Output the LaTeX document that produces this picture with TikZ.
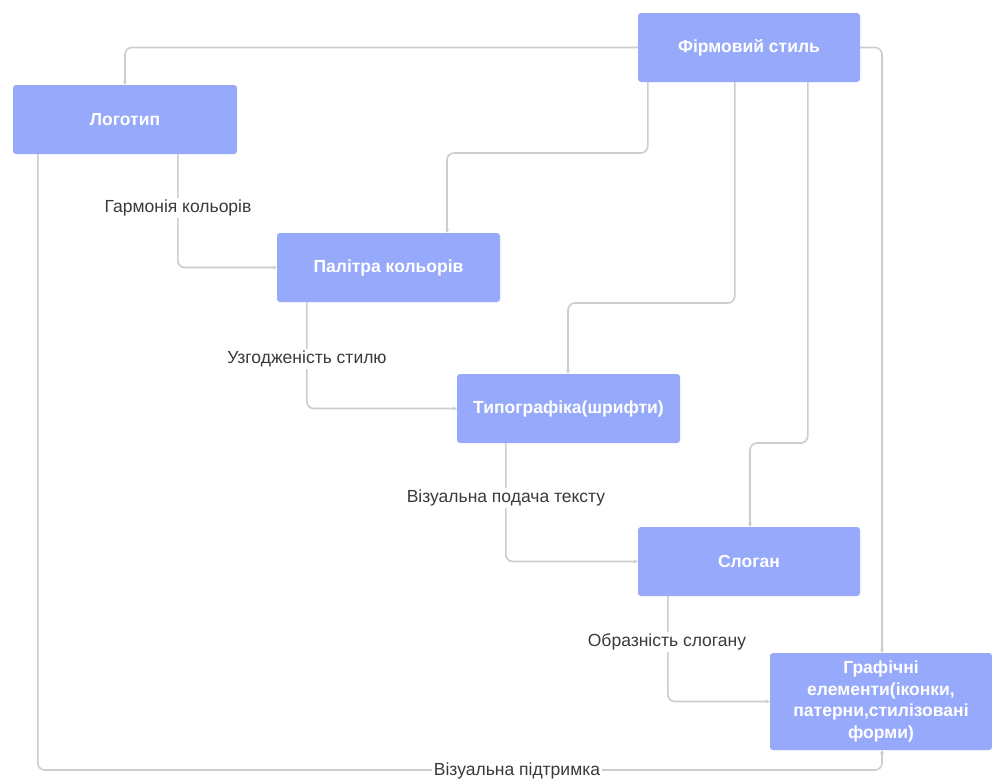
\documentclass[tikz,border=0pt]{standalone}
\usepackage{fontspec}
\setmainfont{Liberation Sans}
\usetikzlibrary{arrows.meta}
\definecolor{boxblue}{HTML}{97A9FA}
\definecolor{linegrey}{HTML}{CDCDCD}
\definecolor{labelgrey}{HTML}{3A3A3A}
\begin{document}
\begin{tikzpicture}[x=1pt,y=-1pt,
  box/.style={draw=none, fill=boxblue, rounded corners=3pt, text=white, font=\fontsize{17.5}{21.5}\selectfont\bfseries, align=center, inner sep=0pt},
  conn/.style={draw=linegrey, line width=1.6pt, rounded corners=7pt, -{Stealth[length=4pt,width=4pt]}},
  lbl/.style={fill=white, text=labelgrey, font=\fontsize{17.5}{20}\selectfont, inner sep=2pt}]
\useasboundingbox (0,0) rectangle (992,782);
\fill[white] (0,0) rectangle (992,782);

\node[box, minimum width=222pt, minimum height=69pt] (firm) at (749,47.5) {Фірмовий стиль};
\node[box, minimum width=224pt, minimum height=69pt] (logo) at (125,119.5) {Логотип};
\node[box, minimum width=223pt, minimum height=69pt] (pal) at (388.5,267.5) {Палітра кольорів};
\node[box, minimum width=223pt, minimum height=69pt] (typo) at (568.5,408.5) {Типографіка(шрифти)};
\node[box, minimum width=222pt, minimum height=69pt] (slog) at (749,561.5) {Слоган};
\node[box, minimum width=222pt, minimum height=97pt, text width=210pt] (graf) at (881,701.5) {Графічні\\елементи(іконки,\\патерни,стилізовані\\форми)};

\coordinate (b2) at (447,153);
\coordinate (b3) at (568,303);
\coordinate (b4) at (750,443);
\coordinate (b10) at (882,770);

\draw[conn] (firm.west) -| (logo.north);
\draw[conn] ([xshift=10pt]firm.south west) |- (b2) -- (b2 |- pal.north);
\draw[conn] ([xshift=97pt]firm.south west) |- (b3) -- (b3 |- typo.north);
\draw[conn] ([xshift=170pt]firm.south west) |- (b4) -- (b4 |- slog.north);
\draw[conn] (firm.east) -| ([xshift=1pt]graf.north);
\draw[conn] ([xshift=165pt]logo.south west) |- (pal.west);
\draw[conn] ([xshift=30pt]pal.south west) |- (typo.west);
\draw[conn] ([xshift=49pt]typo.south west) |- (slog.west);
\draw[conn] ([xshift=30pt]slog.south west) |- (graf.west);
\draw[conn] ([xshift=25pt]logo.south west) |- (b10) -- (b10 |- graf.south);

\node[lbl] (l1) at (178,208) {Гармонія кольорів};
\node[lbl] (l2) at (307,359) {Узгодженість стилю};
\node[lbl] (l3) at (506,498) {Візуальна подача тексту};
\node[lbl] (l4) at (667,642) {Образність слогану};
\node[lbl] (l5) at (517,771) {Візуальна підтримка};
\end{tikzpicture}
\end{document}
